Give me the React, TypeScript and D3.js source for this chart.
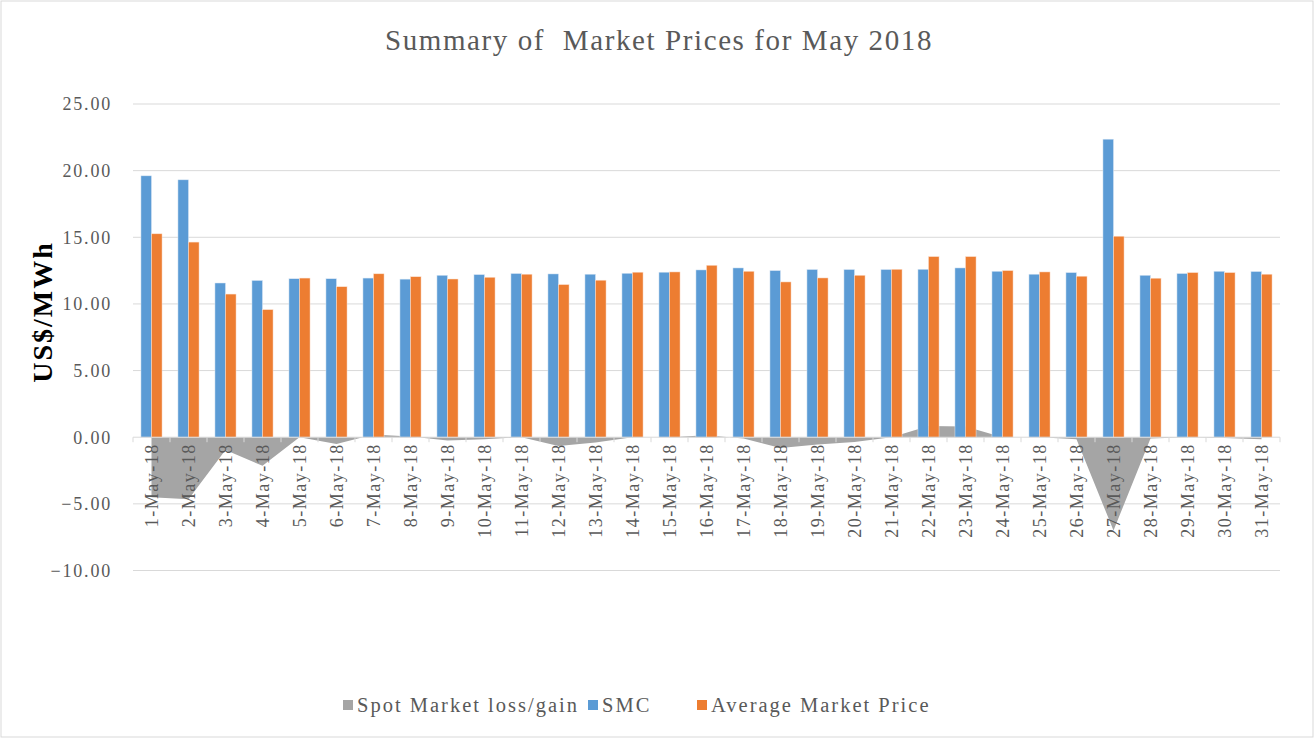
import React from 'react';
import * as d3 from 'd3';

// Categories (days of May 2018)
const days = [
  '1-May-18', '2-May-18', '3-May-18', '4-May-18', '5-May-18', '6-May-18', '7-May-18', '8-May-18',
  '9-May-18', '10-May-18', '11-May-18', '12-May-18', '13-May-18', '14-May-18', '15-May-18', '16-May-18',
  '17-May-18', '18-May-18', '19-May-18', '20-May-18', '21-May-18', '22-May-18', '23-May-18', '24-May-18',
  '25-May-18', '26-May-18', '27-May-18', '28-May-18', '29-May-18', '30-May-18', '31-May-18',
];

// System marginal cost
const smc = [
  19.61, 19.31, 11.57, 11.76, 11.89, 11.89, 11.94, 11.86, 12.15, 12.2, 12.28, 12.25, 12.23, 12.3, 12.38, 12.55,
  12.7, 12.5, 12.58, 12.58, 12.58, 12.6, 12.7, 12.45, 12.23, 12.35, 22.36, 12.15, 12.28, 12.45, 12.43,
];

// Average market price
const avgPrice = [
  15.26, 14.64, 10.74, 9.57, 11.94, 11.29, 12.26, 12.04, 11.87, 12.0, 12.23, 11.45, 11.78, 12.38, 12.4, 12.9,
  12.45, 11.65, 11.95, 12.15, 12.6, 13.55, 13.55, 12.5, 12.4, 12.08, 15.08, 11.93, 12.35, 12.35, 12.23,
];

// Spot market loss/gain
const spot = [
  -4.5, -4.65, -0.95, -2.15, 0, -0.5, 0.2, 0.05, -0.25, -0.15, 0, -0.65, -0.4, 0, 0, 0.15,
  -0.1, -0.8, -0.55, -0.35, 0, 0.85, 0.8, 0, 0, -0.15, -7.0, -0.1, 0, -0.05, -0.15,
];

const yTicks = [-10, -5, 0, 5, 10, 15, 20, 25];

const W = 1316;
const H = 741;
const FONT = '"Liberation Serif", "Times New Roman", serif';
const TEXT = '#595959';
const GRID = '#d9d9d9';

const App = () => {
  const left = 133;
  const right = 1280;

  const x = d3.scaleBand().domain(days).range([left, right]).paddingInner(0).paddingOuter(0);
  const y = d3.scaleLinear().domain([-10, 25]).range([570.5, 104]);

  const groupW = x.bandwidth() * 0.57;
  const barW = groupW / 2;
  const cx = (d: string) => (x(d) as number) + x.bandwidth() / 2;

  const area = d3.area<number>()
    .x((_, i) => cx(days[i]))
    .y0(y(0))
    .y1(d => y(d));

  const legendItems = [
    { label: 'Spot Market loss/gain', color: '#a5a5a5', x: 343 },
    { label: 'SMC', color: '#5b9bd5', x: 588 },
    { label: 'Average Market Price', color: '#ed7d31', x: 697 },
  ];

  return (
    <svg width={W} height={H} style={{ position: 'absolute', left: 0, top: 0, background: '#fff' }}
      fontFamily={FONT}>
      <rect x={1} y={1} width={W - 4} height={H - 5} fill="#fff" stroke={GRID} />

      {/* title */}
      <text x={659} y={50} textAnchor="middle" fontSize={29} fill={TEXT} letterSpacing={1.6}
        style={{ whiteSpace: 'pre' }}>
        {'Summary of  Market Prices for May 2018'}
      </text>

      {/* gridlines and y labels */}
      {yTicks.map(t => (
        <g key={t}>
          {t !== 0 && <line x1={left} x2={right} y1={y(t)} y2={y(t)} stroke={GRID} strokeWidth={1} />}
          <text x={112} y={y(t)} dy="0.35em" textAnchor="end" fontSize={18} fill={TEXT} letterSpacing={1.8}>
            {d3.format('.2f')(t)}
          </text>
        </g>
      ))}

      {/* spot market area */}
      <path d={area(spot) || ''} fill="#a5a5a5" />

      {/* bars */}
      {days.map((d, i) => (
        <g key={d}>
          <rect x={cx(d) - groupW / 2} width={barW} y={y(smc[i])} height={y(0) - y(smc[i])}
            fill="#5b9bd5" stroke="#dbe8f5" strokeWidth={0.5} />
          <rect x={cx(d)} width={barW} y={y(avgPrice[i])} height={y(0) - y(avgPrice[i])}
            fill="#ed7d31" stroke="#fbe1d1" strokeWidth={0.5} />
        </g>
      ))}

      {/* category axis */}
      <line x1={left} x2={right} y1={y(0)} y2={y(0)} stroke={GRID} strokeWidth={1} />
      {days.map(d => (
        <line key={'t' + d} x1={x(d)} x2={x(d)} y1={y(0)} y2={y(0) + 5} stroke={GRID} />
      ))}
      <line x1={right} x2={right} y1={y(0)} y2={y(0) + 5} stroke={GRID} />
      {days.map(d => (
        <text key={'l' + d} transform={`translate(${cx(d)},${y(0) + 6}) rotate(-90)`} dy="0.35em"
          textAnchor="end" fontSize={18} fill={TEXT} letterSpacing={1.5}>
          {d}
        </text>
      ))}

      {/* y axis title */}
      <text transform={`translate(42,312) rotate(-90)`} dy="0.35em" textAnchor="middle" fontSize={28}
        fontWeight="bold" fill="#000" letterSpacing={2}>
        US$/MWh
      </text>

      {/* legend */}
      {legendItems.map(it => (
        <g key={it.label}>
          <rect x={it.x} y={700} width={10} height={10} fill={it.color} />
          <text x={it.x + 14} y={705} dy="0.35em" fontSize={20.5} fill={TEXT} letterSpacing={2}>
            {it.label}
          </text>
        </g>
      ))}
    </svg>
  );
};

export default App;
